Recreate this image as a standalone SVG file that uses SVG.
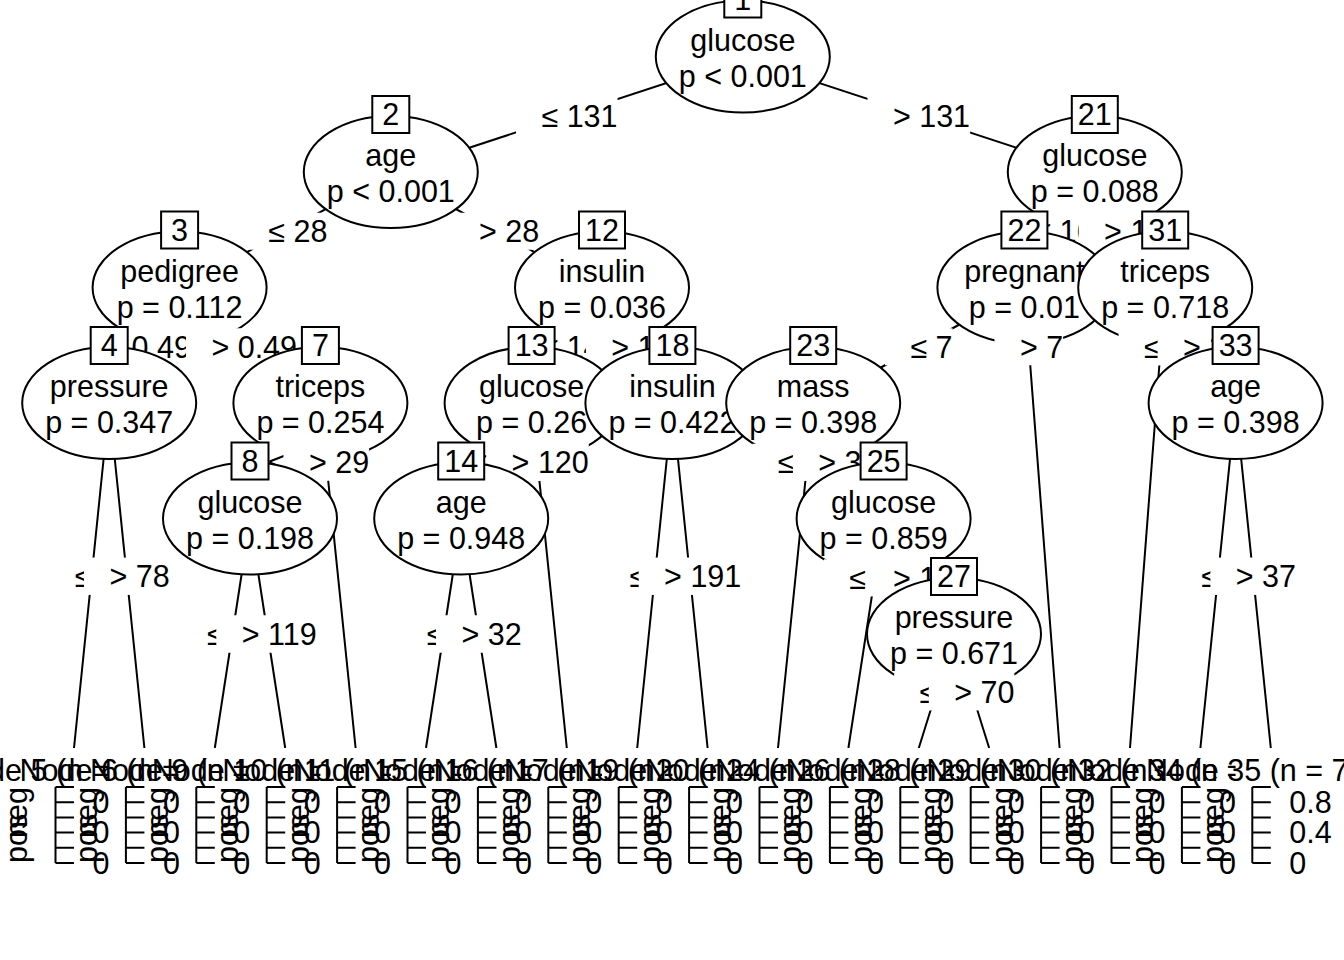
<svg xmlns="http://www.w3.org/2000/svg" width="1344" height="960" viewBox="0 0 1344 960">
<defs>
<style>
text{font-family:"Liberation Sans",Arial,sans-serif;font-size:30.5px;fill:#000}
.e{fill:#fff;stroke:#000;stroke-width:2}
.b{fill:#fff;stroke:#000;stroke-width:2}
.m{text-anchor:middle}
.lr{fill:#fff;stroke:none}
.w{fill:#fff;stroke:none}
#connectors line{stroke:#000;stroke-width:2}
.ax{stroke:#000;stroke-width:2;fill:none}
</style>
</defs>
<rect width="1344" height="960" fill="#fff"/>
<g id="connectors">
<line x1="742.8" y1="58" x2="390.8" y2="173.5"/>
<line x1="742.8" y1="58" x2="1094.8" y2="173.5"/>
<line x1="390.8" y1="173.5" x2="179.6" y2="289"/>
<line x1="390.8" y1="173.5" x2="602" y2="289"/>
<line x1="179.6" y1="289" x2="109.2" y2="404.5"/>
<line x1="179.6" y1="289" x2="320.4" y2="404.5"/>
<line x1="109.2" y1="404.5" x2="74" y2="748"/>
<line x1="109.2" y1="404.5" x2="144.4" y2="748"/>
<line x1="320.4" y1="404.5" x2="250" y2="520"/>
<line x1="320.4" y1="404.5" x2="355.6" y2="748"/>
<line x1="250" y1="520" x2="214.8" y2="748"/>
<line x1="250" y1="520" x2="285.2" y2="748"/>
<line x1="602" y1="289" x2="531.6" y2="404.5"/>
<line x1="602" y1="289" x2="672.4" y2="404.5"/>
<line x1="531.6" y1="404.5" x2="461.2" y2="520"/>
<line x1="531.6" y1="404.5" x2="566.8" y2="748"/>
<line x1="461.2" y1="520" x2="426" y2="748"/>
<line x1="461.2" y1="520" x2="496.4" y2="748"/>
<line x1="672.4" y1="404.5" x2="637.2" y2="748"/>
<line x1="672.4" y1="404.5" x2="707.6" y2="748"/>
<line x1="1094.8" y1="173.5" x2="1024.4" y2="289"/>
<line x1="1094.8" y1="173.5" x2="1165.2" y2="289"/>
<line x1="1024.4" y1="289" x2="813.2" y2="404.5"/>
<line x1="1024.4" y1="289" x2="1059.6" y2="748"/>
<line x1="813.2" y1="404.5" x2="778" y2="748"/>
<line x1="813.2" y1="404.5" x2="883.6" y2="520"/>
<line x1="883.6" y1="520" x2="848.4" y2="748"/>
<line x1="883.6" y1="520" x2="954" y2="635.5"/>
<line x1="954" y1="635.5" x2="918.8" y2="748"/>
<line x1="954" y1="635.5" x2="989.2" y2="748"/>
<line x1="1165.2" y1="289" x2="1130" y2="748"/>
<line x1="1165.2" y1="289" x2="1235.6" y2="404.5"/>
<line x1="1235.6" y1="404.5" x2="1200.4" y2="748"/>
<line x1="1235.6" y1="404.5" x2="1270.8" y2="748"/>
</g>

<g id="node1">
<ellipse class="e" cx="742.8" cy="56.5" rx="87" ry="56"/>
<text class="m" x="742.8" y="50.5">glucose</text>
<text class="m" x="742.8" y="86.5">p &lt; 0.001</text>
<rect class="b" x="724.3" y="-19.5" width="37" height="37"/>
<text class="m" x="742.8" y="9.5">1</text>
<rect class="lr" x="516.05" y="97.25" width="101.5" height="37"/>
<text x="541.45" y="126.75">≤ 131</text>
<rect class="lr" x="867.5" y="97.25" width="102.6" height="37"/>
<text x="892.9" y="126.75">&gt; 131</text>
</g>

<g id="node2">
<ellipse class="e" cx="390.8" cy="172" rx="87" ry="56"/>
<text class="m" x="390.8" y="166">age</text>
<text class="m" x="390.8" y="202">p &lt; 0.001</text>
<rect class="b" x="372.3" y="96" width="37" height="37"/>
<text class="m" x="390.8" y="125">2</text>
<rect class="lr" x="242.95" y="212.75" width="84.5" height="37"/>
<text x="268.35" y="242.25">≤ 28</text>
<rect class="lr" x="453.6" y="212.75" width="85.6" height="37"/>
<text x="479" y="242.25">&gt; 28</text>
</g>

<g id="node3">
<ellipse class="e" cx="179.6" cy="287.5" rx="87" ry="56"/>
<text class="m" x="179.6" y="281.5">pedigree</text>
<text class="m" x="179.6" y="317.5">p = 0.112</text>
<rect class="b" x="161.1" y="211.5" width="37" height="37"/>
<text class="m" x="179.6" y="240.5">3</text>
<rect class="lr" x="80.95" y="328.25" width="126.9" height="37"/>
<text x="106.35" y="357.75">≤ 0.49</text>
<rect class="lr" x="186" y="328.25" width="128" height="37"/>
<text x="211.4" y="357.75">&gt; 0.49</text>
</g>

<g id="node4">
<ellipse class="e" cx="109.2" cy="403" rx="87" ry="56"/>
<text class="m" x="109.2" y="397">pressure</text>
<text class="m" x="109.2" y="433">p = 0.347</text>
<rect class="b" x="90.7" y="327" width="37" height="37"/>
<text class="m" x="109.2" y="356">4</text>
<rect class="lr" x="49.35" y="557.75" width="84.5" height="37"/>
<text x="74.75" y="587.25">≤ 78</text>
<rect class="lr" x="84" y="557.75" width="85.6" height="37"/>
<text x="109.4" y="587.25">&gt; 78</text>
</g>

<g id="node5">
<rect class="w" x="38.8" y="748" width="70.4" height="117"/>
<text x="-50.9" y="781">Node 5 (n =</text>
<path class="ax" d="M55.5 787V863M55.5 787H74M55.5 802.2H74M55.5 817.4H74M55.5 832.6H74M55.5 847.8H74M55.5 863H74"/>
<text transform="translate(27 863) rotate(-90)">pos</text>
<text transform="translate(27 787) rotate(-90)" text-anchor="end">neg</text>
<text x="92.5" y="812.7">0.8</text><text x="92.5" y="843.1">0.4</text><text x="92.5" y="873.5">0</text>
</g>

<g id="node6">
<rect class="w" x="109.2" y="748" width="70.4" height="117"/>
<text x="19.5" y="781">Node 6 (n =</text>
<path class="ax" d="M125.9 787V863M125.9 787H144.4M125.9 802.2H144.4M125.9 817.4H144.4M125.9 832.6H144.4M125.9 847.8H144.4M125.9 863H144.4"/>
<text transform="translate(97.4 863) rotate(-90)">pos</text>
<text transform="translate(97.4 787) rotate(-90)" text-anchor="end">neg</text>
<text x="162.9" y="812.7">0.8</text><text x="162.9" y="843.1">0.4</text><text x="162.9" y="873.5">0</text>
</g>

<g id="node7">
<ellipse class="e" cx="320.4" cy="403" rx="87" ry="56"/>
<text class="m" x="320.4" y="397">triceps</text>
<text class="m" x="320.4" y="433">p = 0.254</text>
<rect class="b" x="301.9" y="327" width="37" height="37"/>
<text class="m" x="320.4" y="356">7</text>
<rect class="lr" x="242.95" y="443.75" width="84.5" height="37"/>
<text x="268.35" y="473.25">≤ 29</text>
<rect class="lr" x="283.5" y="443.75" width="85.6" height="37"/>
<text x="308.9" y="473.25">&gt; 29</text>
</g>

<g id="node8">
<ellipse class="e" cx="250" cy="518.5" rx="87" ry="56"/>
<text class="m" x="250" y="512.5">glucose</text>
<text class="m" x="250" y="548.5">p = 0.198</text>
<rect class="b" x="231.5" y="442.5" width="37" height="37"/>
<text class="m" x="250" y="471.5">8</text>
<rect class="lr" x="181.65" y="615.5" width="101.5" height="37"/>
<text x="207.05" y="645">≤ 119</text>
<rect class="lr" x="216.3" y="615.5" width="102.6" height="37"/>
<text x="241.7" y="645">&gt; 119</text>
</g>

<g id="node9">
<rect class="w" x="179.6" y="748" width="70.4" height="117"/>
<text x="89.9" y="781">Node 9 (n =</text>
<path class="ax" d="M196.3 787V863M196.3 787H214.8M196.3 802.2H214.8M196.3 817.4H214.8M196.3 832.6H214.8M196.3 847.8H214.8M196.3 863H214.8"/>
<text transform="translate(167.8 863) rotate(-90)">pos</text>
<text transform="translate(167.8 787) rotate(-90)" text-anchor="end">neg</text>
<text x="233.3" y="812.7">0.8</text><text x="233.3" y="843.1">0.4</text><text x="233.3" y="873.5">0</text>
</g>

<g id="node10">
<rect class="w" x="250" y="748" width="70.4" height="117"/>
<text x="151.85" y="781">Node 10 (n =</text>
<path class="ax" d="M266.7 787V863M266.7 787H285.2M266.7 802.2H285.2M266.7 817.4H285.2M266.7 832.6H285.2M266.7 847.8H285.2M266.7 863H285.2"/>
<text transform="translate(238.2 863) rotate(-90)">pos</text>
<text transform="translate(238.2 787) rotate(-90)" text-anchor="end">neg</text>
<text x="303.7" y="812.7">0.8</text><text x="303.7" y="843.1">0.4</text><text x="303.7" y="873.5">0</text>
</g>

<g id="node11">
<rect class="w" x="320.4" y="748" width="70.4" height="117"/>
<text x="222.25" y="781">Node 11 (n =</text>
<path class="ax" d="M337.1 787V863M337.1 787H355.6M337.1 802.2H355.6M337.1 817.4H355.6M337.1 832.6H355.6M337.1 847.8H355.6M337.1 863H355.6"/>
<text transform="translate(308.6 863) rotate(-90)">pos</text>
<text transform="translate(308.6 787) rotate(-90)" text-anchor="end">neg</text>
<text x="374.1" y="812.7">0.8</text><text x="374.1" y="843.1">0.4</text><text x="374.1" y="873.5">0</text>
</g>

<g id="node12">
<ellipse class="e" cx="602" cy="287.5" rx="87" ry="56"/>
<text class="m" x="602" y="281.5">insulin</text>
<text class="m" x="602" y="317.5">p = 0.036</text>
<rect class="b" x="579" y="211.5" width="46" height="37"/>
<text class="m" x="602" y="240.5">12</text>
<rect class="lr" x="516.05" y="328.25" width="101.5" height="37"/>
<text x="541.45" y="357.75">≤ 14</text>
<rect class="lr" x="585.9" y="328.25" width="102.6" height="37"/>
<text x="611.3" y="357.75">&gt; 14</text>
</g>

<g id="node13">
<ellipse class="e" cx="531.6" cy="403" rx="87" ry="56"/>
<text class="m" x="531.6" y="397">glucose</text>
<text class="m" x="531.6" y="433">p = 0.26</text>
<rect class="b" x="508.6" y="327" width="46" height="37"/>
<text class="m" x="531.6" y="356">13</text>
<rect class="lr" x="445.65" y="443.75" width="101.5" height="37"/>
<text x="471.05" y="473.25">≤ 120</text>
<rect class="lr" x="486.2" y="443.75" width="102.6" height="37"/>
<text x="511.6" y="473.25">&gt; 120</text>
</g>

<g id="node14">
<ellipse class="e" cx="461.2" cy="518.5" rx="87" ry="56"/>
<text class="m" x="461.2" y="512.5">age</text>
<text class="m" x="461.2" y="548.5">p = 0.948</text>
<rect class="b" x="438.2" y="442.5" width="46" height="37"/>
<text class="m" x="461.2" y="471.5">14</text>
<rect class="lr" x="401.35" y="615.5" width="84.5" height="37"/>
<text x="426.75" y="645">≤ 32</text>
<rect class="lr" x="436" y="615.5" width="85.6" height="37"/>
<text x="461.4" y="645">&gt; 32</text>
</g>

<g id="node15">
<rect class="w" x="390.8" y="748" width="70.4" height="117"/>
<text x="292.65" y="781">Node 15 (n =</text>
<path class="ax" d="M407.5 787V863M407.5 787H426M407.5 802.2H426M407.5 817.4H426M407.5 832.6H426M407.5 847.8H426M407.5 863H426"/>
<text transform="translate(379 863) rotate(-90)">pos</text>
<text transform="translate(379 787) rotate(-90)" text-anchor="end">neg</text>
<text x="444.5" y="812.7">0.8</text><text x="444.5" y="843.1">0.4</text><text x="444.5" y="873.5">0</text>
</g>

<g id="node16">
<rect class="w" x="461.2" y="748" width="70.4" height="117"/>
<text x="363.05" y="781">Node 16 (n =</text>
<path class="ax" d="M477.9 787V863M477.9 787H496.4M477.9 802.2H496.4M477.9 817.4H496.4M477.9 832.6H496.4M477.9 847.8H496.4M477.9 863H496.4"/>
<text transform="translate(449.4 863) rotate(-90)">pos</text>
<text transform="translate(449.4 787) rotate(-90)" text-anchor="end">neg</text>
<text x="514.9" y="812.7">0.8</text><text x="514.9" y="843.1">0.4</text><text x="514.9" y="873.5">0</text>
</g>

<g id="node17">
<rect class="w" x="531.6" y="748" width="70.4" height="117"/>
<text x="433.45" y="781">Node 17 (n =</text>
<path class="ax" d="M548.3 787V863M548.3 787H566.8M548.3 802.2H566.8M548.3 817.4H566.8M548.3 832.6H566.8M548.3 847.8H566.8M548.3 863H566.8"/>
<text transform="translate(519.8 863) rotate(-90)">pos</text>
<text transform="translate(519.8 787) rotate(-90)" text-anchor="end">neg</text>
<text x="585.3" y="812.7">0.8</text><text x="585.3" y="843.1">0.4</text><text x="585.3" y="873.5">0</text>
</g>

<g id="node18">
<ellipse class="e" cx="672.4" cy="403" rx="87" ry="56"/>
<text class="m" x="672.4" y="397">insulin</text>
<text class="m" x="672.4" y="433">p = 0.422</text>
<rect class="b" x="649.4" y="327" width="46" height="37"/>
<text class="m" x="672.4" y="356">18</text>
<rect class="lr" x="604.05" y="557.75" width="101.5" height="37"/>
<text x="629.45" y="587.25">≤ 191</text>
<rect class="lr" x="638.7" y="557.75" width="102.6" height="37"/>
<text x="664.1" y="587.25">&gt; 191</text>
</g>

<g id="node19">
<rect class="w" x="602" y="748" width="70.4" height="117"/>
<text x="503.85" y="781">Node 19 (n =</text>
<path class="ax" d="M618.7 787V863M618.7 787H637.2M618.7 802.2H637.2M618.7 817.4H637.2M618.7 832.6H637.2M618.7 847.8H637.2M618.7 863H637.2"/>
<text transform="translate(590.2 863) rotate(-90)">pos</text>
<text transform="translate(590.2 787) rotate(-90)" text-anchor="end">neg</text>
<text x="655.7" y="812.7">0.8</text><text x="655.7" y="843.1">0.4</text><text x="655.7" y="873.5">0</text>
</g>

<g id="node20">
<rect class="w" x="672.4" y="748" width="70.4" height="117"/>
<text x="574.25" y="781">Node 20 (n =</text>
<path class="ax" d="M689.1 787V863M689.1 787H707.6M689.1 802.2H707.6M689.1 817.4H707.6M689.1 832.6H707.6M689.1 847.8H707.6M689.1 863H707.6"/>
<text transform="translate(660.6 863) rotate(-90)">pos</text>
<text transform="translate(660.6 787) rotate(-90)" text-anchor="end">neg</text>
<text x="726.1" y="812.7">0.8</text><text x="726.1" y="843.1">0.4</text><text x="726.1" y="873.5">0</text>
</g>

<g id="node21">
<ellipse class="e" cx="1094.8" cy="172" rx="87" ry="56"/>
<text class="m" x="1094.8" y="166">glucose</text>
<text class="m" x="1094.8" y="202">p = 0.088</text>
<rect class="b" x="1071.8" y="96" width="46" height="37"/>
<text class="m" x="1094.8" y="125">21</text>
<rect class="lr" x="1008.85" y="212.75" width="101.5" height="37"/>
<text x="1034.25" y="242.25">≤ 16</text>
<rect class="lr" x="1078.7" y="212.75" width="102.6" height="37"/>
<text x="1104.1" y="242.25">&gt; 1</text>
</g>

<g id="node22">
<ellipse class="e" cx="1024.4" cy="287.5" rx="87" ry="56"/>
<text class="m" x="1024.4" y="281.5">pregnant</text>
<text class="m" x="1024.4" y="317.5">p = 0.01</text>
<rect class="b" x="1001.4" y="211.5" width="46" height="37"/>
<text class="m" x="1024.4" y="240.5">22</text>
<rect class="lr" x="885" y="328.25" width="67.6" height="37"/>
<text x="910.4" y="357.75">≤ 7</text>
<rect class="lr" x="994.5" y="328.25" width="68.6" height="37"/>
<text x="1019.9" y="357.75">&gt; 7</text>
</g>

<g id="node23">
<ellipse class="e" cx="813.2" cy="403" rx="87" ry="56"/>
<text class="m" x="813.2" y="397">mass</text>
<text class="m" x="813.2" y="433">p = 0.398</text>
<rect class="b" x="790.2" y="327" width="46" height="37"/>
<text class="m" x="813.2" y="356">23</text>
<rect class="lr" x="752.3" y="443.75" width="110" height="37"/>
<text x="777.7" y="473.25">≤ 3</text>
<rect class="lr" x="792.9" y="443.75" width="111" height="37"/>
<text x="818.3" y="473.25">&gt; 3</text>
</g>

<g id="node24">
<rect class="w" x="742.8" y="748" width="70.4" height="117"/>
<text x="644.65" y="781">Node 24 (n =</text>
<path class="ax" d="M759.5 787V863M759.5 787H778M759.5 802.2H778M759.5 817.4H778M759.5 832.6H778M759.5 847.8H778M759.5 863H778"/>
<text transform="translate(731 863) rotate(-90)">pos</text>
<text transform="translate(731 787) rotate(-90)" text-anchor="end">neg</text>
<text x="796.5" y="812.7">0.8</text><text x="796.5" y="843.1">0.4</text><text x="796.5" y="873.5">0</text>
</g>

<g id="node25">
<ellipse class="e" cx="883.6" cy="518.5" rx="87" ry="56"/>
<text class="m" x="883.6" y="512.5">glucose</text>
<text class="m" x="883.6" y="548.5">p = 0.859</text>
<rect class="b" x="860.6" y="442.5" width="46" height="37"/>
<text class="m" x="883.6" y="471.5">25</text>
<rect class="lr" x="823.95" y="559.25" width="101.5" height="37"/>
<text x="849.35" y="588.75">≤ 1</text>
<rect class="lr" x="867.5" y="559.25" width="102.6" height="37"/>
<text x="892.9" y="588.75">&gt; 1</text>
</g>

<g id="node26">
<rect class="w" x="813.2" y="748" width="70.4" height="117"/>
<text x="715.05" y="781">Node 26 (n =</text>
<path class="ax" d="M829.9 787V863M829.9 787H848.4M829.9 802.2H848.4M829.9 817.4H848.4M829.9 832.6H848.4M829.9 847.8H848.4M829.9 863H848.4"/>
<text transform="translate(801.4 863) rotate(-90)">pos</text>
<text transform="translate(801.4 787) rotate(-90)" text-anchor="end">neg</text>
<text x="866.9" y="812.7">0.8</text><text x="866.9" y="843.1">0.4</text><text x="866.9" y="873.5">0</text>
</g>

<g id="node27">
<ellipse class="e" cx="954" cy="634" rx="87" ry="56"/>
<text class="m" x="954" y="628">pressure</text>
<text class="m" x="954" y="664">p = 0.671</text>
<rect class="b" x="931" y="558" width="46" height="37"/>
<text class="m" x="954" y="587">27</text>
<rect class="lr" x="894.15" y="673.25" width="84.5" height="37"/>
<text x="919.55" y="702.75">≤ 70</text>
<rect class="lr" x="928.8" y="673.25" width="85.6" height="37"/>
<text x="954.2" y="702.75">&gt; 70</text>
</g>

<g id="node28">
<rect class="w" x="883.6" y="748" width="70.4" height="117"/>
<text x="785.45" y="781">Node 28 (n =</text>
<path class="ax" d="M900.3 787V863M900.3 787H918.8M900.3 802.2H918.8M900.3 817.4H918.8M900.3 832.6H918.8M900.3 847.8H918.8M900.3 863H918.8"/>
<text transform="translate(871.8 863) rotate(-90)">pos</text>
<text transform="translate(871.8 787) rotate(-90)" text-anchor="end">neg</text>
<text x="937.3" y="812.7">0.8</text><text x="937.3" y="843.1">0.4</text><text x="937.3" y="873.5">0</text>
</g>

<g id="node29">
<rect class="w" x="954" y="748" width="70.4" height="117"/>
<text x="855.85" y="781">Node 29 (n =</text>
<path class="ax" d="M970.7 787V863M970.7 787H989.2M970.7 802.2H989.2M970.7 817.4H989.2M970.7 832.6H989.2M970.7 847.8H989.2M970.7 863H989.2"/>
<text transform="translate(942.2 863) rotate(-90)">pos</text>
<text transform="translate(942.2 787) rotate(-90)" text-anchor="end">neg</text>
<text x="1007.7" y="812.7">0.8</text><text x="1007.7" y="843.1">0.4</text><text x="1007.7" y="873.5">0</text>
</g>

<g id="node30">
<rect class="w" x="1024.4" y="748" width="70.4" height="117"/>
<text x="926.25" y="781">Node 30 (n =</text>
<path class="ax" d="M1041.1 787V863M1041.1 787H1059.6M1041.1 802.2H1059.6M1041.1 817.4H1059.6M1041.1 832.6H1059.6M1041.1 847.8H1059.6M1041.1 863H1059.6"/>
<text transform="translate(1012.6 863) rotate(-90)">pos</text>
<text transform="translate(1012.6 787) rotate(-90)" text-anchor="end">neg</text>
<text x="1078.1" y="812.7">0.8</text><text x="1078.1" y="843.1">0.4</text><text x="1078.1" y="873.5">0</text>
</g>

<g id="node31">
<ellipse class="e" cx="1165.2" cy="287.5" rx="87" ry="56"/>
<text class="m" x="1165.2" y="281.5">triceps</text>
<text class="m" x="1165.2" y="317.5">p = 0.718</text>
<rect class="b" x="1142.2" y="211.5" width="46" height="37"/>
<text class="m" x="1165.2" y="240.5">31</text>
<rect class="lr" x="1118.55" y="328.25" width="84.5" height="37"/>
<text x="1143.95" y="357.75">≤ 2</text>
<rect class="lr" x="1157.6" y="328.25" width="85.6" height="37"/>
<text x="1183" y="357.75">&gt; 2</text>
</g>

<g id="node32">
<rect class="w" x="1094.8" y="748" width="70.4" height="117"/>
<text x="996.65" y="781">Node 32 (n =</text>
<path class="ax" d="M1111.5 787V863M1111.5 787H1130M1111.5 802.2H1130M1111.5 817.4H1130M1111.5 832.6H1130M1111.5 847.8H1130M1111.5 863H1130"/>
<text transform="translate(1083 863) rotate(-90)">pos</text>
<text transform="translate(1083 787) rotate(-90)" text-anchor="end">neg</text>
<text x="1148.5" y="812.7">0.8</text><text x="1148.5" y="843.1">0.4</text><text x="1148.5" y="873.5">0</text>
</g>

<g id="node33">
<ellipse class="e" cx="1235.6" cy="403" rx="87" ry="56"/>
<text class="m" x="1235.6" y="397">age</text>
<text class="m" x="1235.6" y="433">p = 0.398</text>
<rect class="b" x="1212.6" y="327" width="46" height="37"/>
<text class="m" x="1235.6" y="356">33</text>
<rect class="lr" x="1175.75" y="557.75" width="84.5" height="37"/>
<text x="1201.15" y="587.25">≤ 37</text>
<rect class="lr" x="1210.4" y="557.75" width="85.6" height="37"/>
<text x="1235.8" y="587.25">&gt; 37</text>
</g>

<g id="node34">
<rect class="w" x="1165.2" y="748" width="70.4" height="117"/>
<text x="1067.05" y="781">Node 34 (n =</text>
<path class="ax" d="M1181.9 787V863M1181.9 787H1200.4M1181.9 802.2H1200.4M1181.9 817.4H1200.4M1181.9 832.6H1200.4M1181.9 847.8H1200.4M1181.9 863H1200.4"/>
<text transform="translate(1153.4 863) rotate(-90)">pos</text>
<text transform="translate(1153.4 787) rotate(-90)" text-anchor="end">neg</text>
<text x="1218.9" y="812.7">0.8</text><text x="1218.9" y="843.1">0.4</text><text x="1218.9" y="873.5">0</text>
</g>

<g id="node35">
<rect class="w" x="1235.6" y="748" width="70.4" height="117"/>
<text x="1145.9" y="781">Node 35 (n = 7)</text>
<path class="ax" d="M1252.3 787V863M1252.3 787H1270.8M1252.3 802.2H1270.8M1252.3 817.4H1270.8M1252.3 832.6H1270.8M1252.3 847.8H1270.8M1252.3 863H1270.8"/>
<text transform="translate(1223.8 863) rotate(-90)">pos</text>
<text transform="translate(1223.8 787) rotate(-90)" text-anchor="end">neg</text>
<text x="1289.3" y="812.7">0.8</text><text x="1289.3" y="843.1">0.4</text><text x="1289.3" y="873.5">0</text>
</g>
</svg>
